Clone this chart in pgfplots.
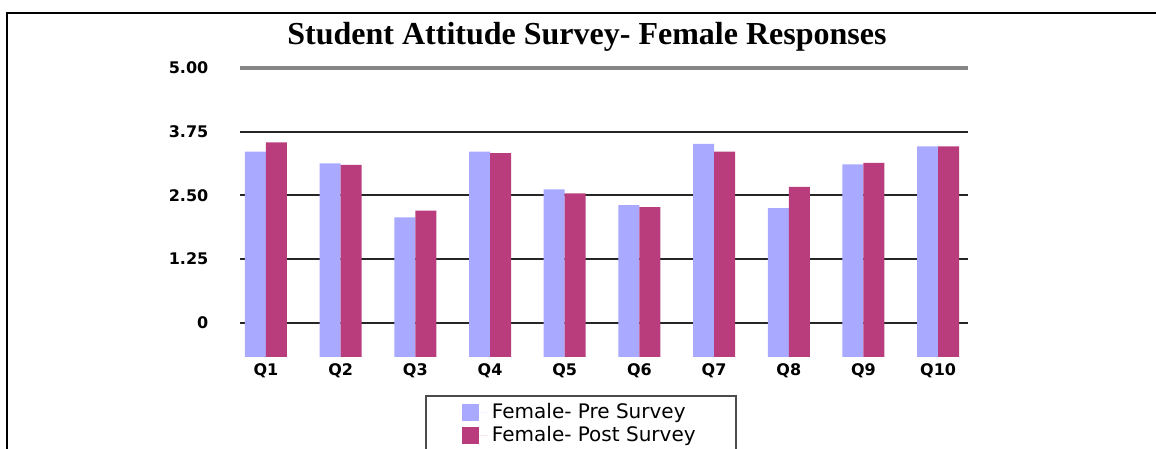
\documentclass[border=0pt]{standalone}
\usepackage{fontspec}
\setmainfont{Liberation Serif}
\newfontfamily\dejavu{DejaVu Sans}
\usepackage{pgfplots}
\pgfplotsset{compat=1.18}
\definecolor{prec}{RGB}{169,169,255}
\definecolor{postc}{RGB}{185,61,125}
\pgfplotsset{sqlegend/.style={legend image code/.code={\fill[##1,draw=none] (0pt,-4.2pt) rectangle (8.5pt,4.2pt); \path (0pt,0pt) -- (13pt,0pt);}}}
\begin{document}
\begin{tikzpicture}
\useasboundingbox (0pt,0pt) rectangle (578pt,224.5pt);
\draw[line width=1.25pt] (3.5pt,218pt) -- (578pt,218pt);
\draw[line width=1.25pt] (3.5pt,218.6pt) -- (3.5pt,0pt);
\node[anchor=base, font=\bfseries\fontsize{16}{19}\selectfont] at (293.5pt,202pt) {Student Attitude Survey- Female Responses};
\begin{axis}[at={(120pt,46pt)}, anchor=south west, scale only axis,
  width=364pt, height=144.5pt,
  ybar=0pt, bar width=10.5pt,
  xmin=-0.348, xmax=9.4, ymin=0, ymax=5.67,
  y filter/.expression={y+0.67},
  axis line style={draw=none},
  major tick length=0pt, tick style={draw=none},
  xtick={0,1,2,3,4,5,6,7,8,9},
  xticklabels={Q1,Q2,Q3,Q4,Q5,Q6,Q7,Q8,Q9,Q10},
  ytick={0.67,1.92,3.17,4.42},
  yticklabels={0,1.25,2.50,3.75},
  extra y ticks={5.67},
  extra y tick labels={5.00},
  extra y tick style={grid=major, major grid style={gray!95, line width=1.6pt}},
  ymajorgrids, major grid style={black!85, line width=1pt},
  /pgf/number format/assume math mode=true,
  ticklabel style={font=\dejavu\bfseries\fontsize{8}{10}\selectfont},
  yticklabel style={xshift=-12.3pt},
  legend style={at={(0.2541,-0.1315)}, anchor=north west, draw=gray!60!black, line width=1pt,
    font=\dejavu\fontsize{10}{10}\selectfont, inner xsep=18pt, inner ysep=1.5pt,
    row sep=-1.5pt, cells={anchor=west}},
  legend cell align=left,
]
\addplot[fill=prec, draw=none, sqlegend] coordinates {(0,3.36) (1,3.13) (2,2.07) (3,3.36) (4,2.62) (5,2.31) (6,3.51) (7,2.25) (8,3.11) (9,3.46)};
\addplot[fill=postc, draw=none, sqlegend] coordinates {(0,3.54) (1,3.10) (2,2.20) (3,3.33) (4,2.54) (5,2.27) (6,3.36) (7,2.67) (8,3.14) (9,3.46)};
\legend{Female- Pre Survey, Female- Post Survey}
\end{axis}
\end{tikzpicture}
\end{document}
